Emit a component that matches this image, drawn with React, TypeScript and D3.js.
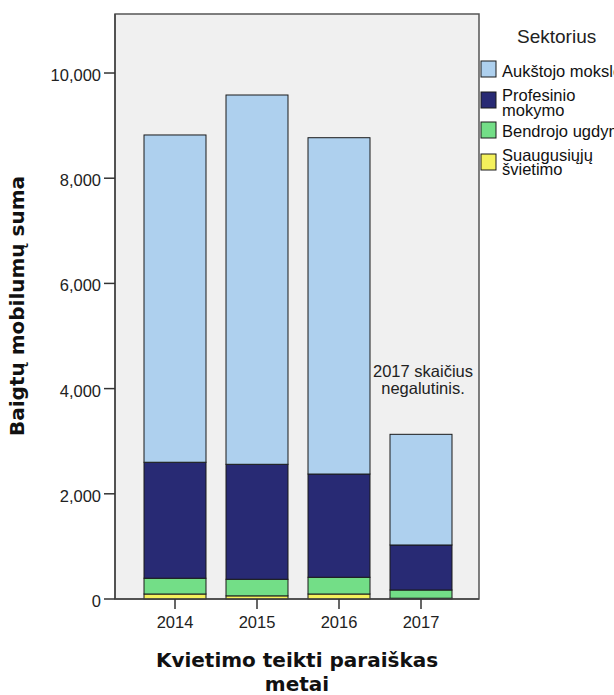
import React from "react";
import * as d3 from "d3";

const years = ["2014", "2015", "2016", "2017"];
const seriesNames = ["Suaugusiųjų švietimo", "Bendrojo ugdymo", "Profesinio mokymo", "Aukštojo mokslo"];
const suaugusiuju = [95, 60, 95, 15];
const bendrojo = [300, 315, 318, 156];
const profesinio = [2205, 2186, 1963, 856];
const aukstojo = [6222, 7021, 6394, 2104];
const seriesColors = ["#f4f15c", "#73de87", "#282a74", "#aed0ee"];
const yTicks = [0, 2000, 4000, 6000, 8000, 10000];
const legendLines = [
  ["Aukštojo mokslo"],
  ["Profesinio", "mokymo"],
  ["Bendrojo ugdymo"],
  ["Suaugusiųjų", "švietimo"],
];
const legendColorIdx = [3, 2, 1, 0];

export default function App() {
  const W = 614, H = 695;
  const plot = { left: 115, right: 479, top: 14, bottom: 599 };
  const y = d3.scaleLinear().domain([0, 11122]).range([plot.bottom, plot.top]);
  const x = d3.scaleBand().domain(years).range([134, 462]).paddingInner(0.244).paddingOuter(0.122);
  const table = years.map((yr, i) => ({
    year: yr,
    s0: suaugusiuju[i],
    s1: bendrojo[i],
    s2: profesinio[i],
    s3: aukstojo[i],
  }));
  const stack = d3.stack<any>().keys(["s0", "s1", "s2", "s3"])(table);
  const fmt = d3.format(",");
  const font = "Arial, 'Liberation Sans', sans-serif";
  const boldFont = "'DejaVu Sans', Verdana, sans-serif";
  const x2017 = (x("2017") as number) + x.bandwidth() / 2;

  const legendTop = [61, 92, 122, 154];
  const legendBase = [[76.5], [100.5, 115.5], [136.5], [160.5, 175]];
  return (
    <svg width={W} height={H} style={{ position: "absolute", left: 0, top: 0, display: "block" }} fontFamily={font}>
      <rect x={0} y={0} width={W} height={H} fill="#ffffff" />
      <rect x={plot.left} y={plot.top} width={plot.right - plot.left} height={plot.bottom - plot.top} fill="#f0f0f0" stroke="#555" strokeWidth={1.5} />
      {stack.map((layer, li) => (
        <g key={li}>
          {layer.map((d, i) => (
            <rect
              key={i}
              x={x(years[i])}
              y={y(d[1])}
              width={x.bandwidth()}
              height={Math.max(0, y(d[0]) - y(d[1]))}
              fill={seriesColors[li]}
              stroke="#1a1a1a"
              strokeWidth={1}
            />
          ))}
        </g>
      ))}
      {/* y axis */}
      <line x1={plot.left} x2={plot.left} y1={plot.top} y2={plot.bottom} stroke="#444" strokeWidth={1.5} />
      {yTicks.map((t) => (
        <g key={t}>
          <line x1={plot.left - 11} x2={plot.left} y1={y(t)} y2={y(t)} stroke="#333" strokeWidth={1.5} />
          <text x={plot.left - 14} y={y(t) + 8} textAnchor="end" fontSize={16.5} fill="#222">{fmt(t)}</text>
        </g>
      ))}
      {/* x axis */}
      <line x1={plot.left} x2={plot.right} y1={plot.bottom} y2={plot.bottom} stroke="#444" strokeWidth={1.5} />
      {years.map((yr) => {
        const cx = (x(yr) as number) + x.bandwidth() / 2;
        return (
          <g key={yr}>
            <line x1={cx} x2={cx} y1={plot.bottom} y2={plot.bottom + 10} stroke="#333" strokeWidth={1.5} />
            <text x={cx} y={628} textAnchor="middle" fontSize={16.5} fill="#222">{yr}</text>
          </g>
        );
      })}
      {/* annotation */}
      <text x={x2017 + 2} y={376.5} textAnchor="middle" fontSize={16.5} fill="#222">2017 skaičius</text>
      <text x={x2017 + 2} y={393.5} textAnchor="middle" fontSize={16.5} fill="#222">negalutinis.</text>
      {/* axis titles */}
      <text transform={`translate(24,306) rotate(-90)`} textAnchor="middle" fontSize={20} fontWeight="bold" fontFamily={boldFont} fill="#111">Baigtų mobilumų suma</text>
      <text x={297} y={666.5} textAnchor="middle" fontSize={20} fontWeight="bold" fontFamily={boldFont} fill="#111">Kvietimo teikti paraiškas</text>
      <text x={297} y={690.5} textAnchor="middle" fontSize={20} fontWeight="bold" fontFamily={boldFont} fill="#111">metai</text>
      {/* legend */}
      <text x={517} y={42.5} fontSize={19} fill="#222">Sektorius</text>
      {legendLines.map((lines, i) => {
        const top = legendTop[i];
        return (
          <g key={i}>
            <rect x={481} y={top} width={15} height={16} fill={seriesColors[legendColorIdx[i]]} stroke="#1a1a1a" strokeWidth={1} />
            {lines.map((l, j) => (
              <text key={j} x={502} y={legendBase[i][j]} fontSize={16.5} fill="#111">{l}</text>
            ))}
          </g>
        );
      })}
    </svg>
  );
}
